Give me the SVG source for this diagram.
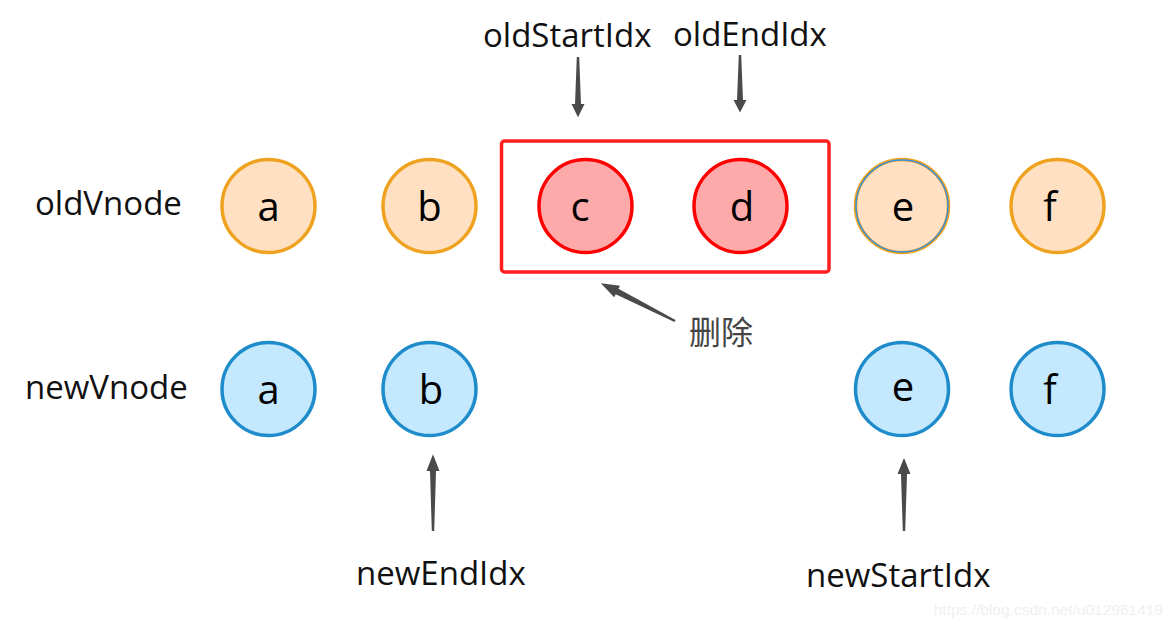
<svg xmlns="http://www.w3.org/2000/svg" width="1172" height="628" viewBox="0 0 1172 628">
  <style>
    .lbl { font-family: "Open Sans", "Noto Sans", sans-serif; font-size: 33px; fill: #111; }
    .ltr { font-family: "Open Sans", "Noto Sans", sans-serif; font-size: 40px; fill: #000; text-anchor: middle; }
    .old { fill: #FFE0C2; stroke: #EFA21F; stroke-width: 3.5; }
    .new { fill: #C4E8FD; stroke: #1E8BCA; stroke-width: 3.5; }
    .del { fill: #FFAAAA; stroke: #FF0000; stroke-width: 3.5; }
    .arr { fill: #4A4A4A; }
  </style>
  <defs>
    <polygon id="arrow" points="0,-1.2 50,-3 50,-6.5 64,0 50,6.5 50,3 0,1.2"/>
  </defs>
  <rect width="1172" height="628" fill="#fff"/>

  <g id="labels">
    <text class="lbl" x="35" y="215">oldVnode</text>
    <text class="lbl" x="25" y="399">newVnode</text>
    <text class="lbl" x="483" y="47">oldStartIdx</text>
    <text class="lbl" x="673" y="46">oldEndIdx</text>
    <text class="lbl" x="356" y="585">newEndIdx</text>
    <text class="lbl" x="806" y="587">newStartIdx</text>
    <text x="689" y="344" style="font-family:'Noto Sans CJK SC','Noto Sans',sans-serif;font-size:32px;fill:#454545">删除</text>
    <text x="1163" y="615" text-anchor="end" style="font-family:'Liberation Sans',Arial,sans-serif;font-size:15.5px;fill:#f0f0f0">https://blog.csdn.net/u012961419</text>
  </g>

  <g id="delete-box">
    <rect x="501.5" y="141" width="327.5" height="131" rx="3" fill="none" stroke="#FF1F1F" stroke-width="3.5"/>
  </g>

  <g id="old-a"><circle class="old" cx="268.5" cy="206" r="46.5"/><text class="ltr" x="268.5" y="221">a</text></g>
  <g id="old-b"><circle class="old" cx="429.5" cy="206" r="46.5"/><text class="ltr" x="429.5" y="221">b</text></g>
  <g id="old-c"><circle class="del" cx="585.5" cy="206" r="46.5"/><text class="ltr" x="580" y="221">c</text></g>
  <g id="old-d"><circle class="del" cx="740.5" cy="206" r="46.5"/><text class="ltr" x="742" y="221">d</text></g>
  <g id="old-e"><circle class="old" cx="902" cy="206" r="46.5"/><circle cx="902" cy="206" r="46" fill="none" stroke="#3A8FD6" stroke-width="1.5"/><text class="ltr" x="903" y="221">e</text></g>
  <g id="old-f"><circle class="old" cx="1057.5" cy="206" r="46.5"/><text class="ltr" x="1050" y="221">f</text></g>

  <g id="new-a"><circle class="new" cx="268.5" cy="389" r="46.5"/><text class="ltr" x="268.5" y="404">a</text></g>
  <g id="new-b"><circle class="new" cx="429.5" cy="389" r="46.5"/><text class="ltr" x="431" y="404">b</text></g>
  <g id="new-e"><circle class="new" cx="902" cy="389" r="46.5"/><text class="ltr" x="903" y="401">e</text></g>
  <g id="new-f"><circle class="new" cx="1057.5" cy="389" r="46.5"/><text class="ltr" x="1050" y="404">f</text></g>

  <g id="connectors" class="arr">
    <use href="#arrow" transform="translate(578,57) rotate(90) scale(0.94,1)"/>
    <use href="#arrow" transform="translate(740,55) rotate(90) scale(0.9,1)"/>
    <use href="#arrow" transform="translate(675,321) rotate(207) scale(1.3,1)"/>
    <use href="#arrow" transform="translate(433,531) rotate(-90) scale(1.2,1)"/>
    <use href="#arrow" transform="translate(904,531) rotate(-90) scale(1.14,1)"/>
  </g>
</svg>
